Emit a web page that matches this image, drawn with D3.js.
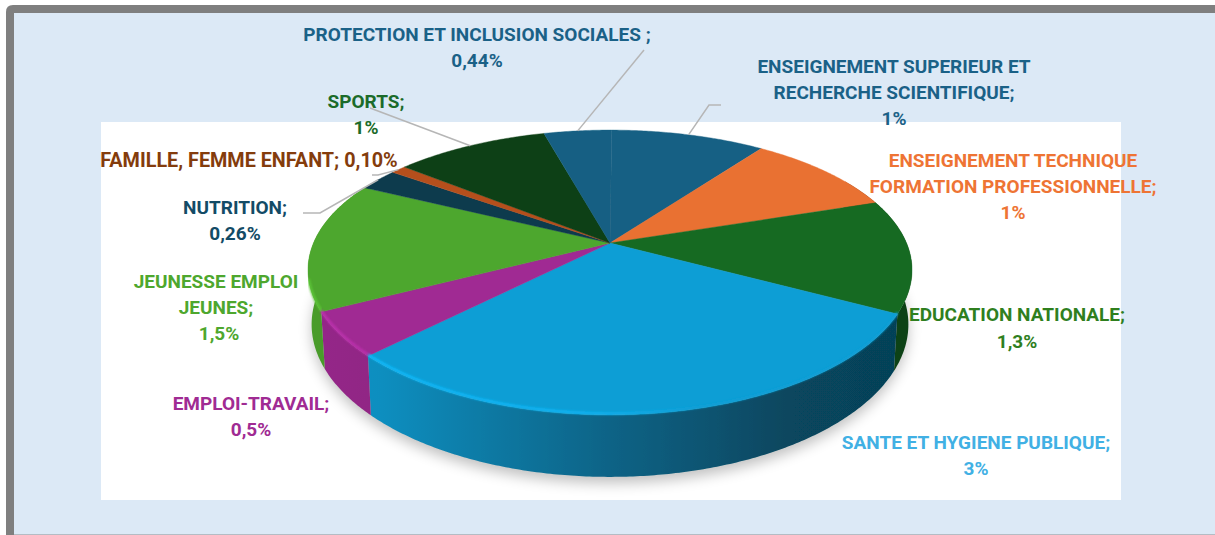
<!DOCTYPE html>
<html lang="fr">
<head>
<meta charset="utf-8">
<script src="https://cdn.jsdelivr.net/npm/d3@7"></script>
<style>
  html, body { margin: 0; padding: 0; background: #fff; }
  svg { display: block; }
  text { font-family: Roboto, "Liberation Sans", sans-serif; font-weight: 700; font-size: 19px; text-anchor: middle; }
</style>
</head>
<body>
<svg id="chart" width="1215" height="535"></svg>
<script>
// Budget shares by ministry, clockwise from twelve o'clock
const categories = [
  "ENSEIGNEMENT SUPERIEUR ET RECHERCHE SCIENTIFIQUE",
  "ENSEIGNEMENT TECHNIQUE FORMATION PROFESSIONNELLE",
  "EDUCATION NATIONALE",
  "SANTE ET HYGIENE PUBLIQUE",
  "EMPLOI-TRAVAIL",
  "JEUNESSE EMPLOI JEUNES",
  "NUTRITION",
  "FAMILLE, FEMME ENFANT",
  "SPORTS",
  "PROTECTION ET INCLUSION SOCIALES"
];
const values = [1, 1, 1.3, 3, 0.5, 1.5, 0.26, 0.10, 1, 0.44];
const valueLabels = ["1%", "1%", "1,3%", "3%", "0,5%", "1,5%", "0,26%", "0,10%", "1%", "0,44%"];
const sliceColors = ["#186184", "#E97132", "#196B24", "#0F9ED5", "#A02B93", "#4EA72E", "#0D3A4E", "#B5501C", "#0F4016", "#145F83"];
const textColors = ["#1A6187", "#EE7434", "#2F7F1E", "#41B0E4", "#A02B93", "#4EA72E", "#134B66", "#843C0C", "#1B6B2A", "#1A6187"];

// Label lines: [centre x, baseline y, text]
const labelLines = [
  [[894, 73, "ENSEIGNEMENT SUPERIEUR ET"], [894, 99, "RECHERCHE SCIENTIFIQUE;"], [894, 125, 0]],
  [[1013, 167, "ENSEIGNEMENT TECHNIQUE"], [1013, 193, "FORMATION PROFESSIONNELLE;"], [1013, 219, 0]],
  [[1017, 321, "EDUCATION NATIONALE;"], [1017, 348, 0]],
  [[976, 449, "SANTE ET HYGIENE PUBLIQUE;"], [976, 475, 0]],
  [[251, 410, "EMPLOI-TRAVAIL;"], [251, 436, 0]],
  [[216, 288, "JEUNESSE EMPLOI"], [216, 314, "JEUNES;"], [219, 340, 0]],
  [[235, 214, "NUTRITION;"], [235, 240, 0]],
  [[249, 167, "FAMILLE, FEMME ENFANT; 0,10%"]],
  [[366, 108, "SPORTS;"], [366, 134, 0]],
  [[477, 41, "PROTECTION ET INCLUSION SOCIALES ;"], [477, 67, 0]]
];
const wideLabel = 7;

// Leader lines run from the slice rim through these elbows
const leaders = [
  { slice: 0, via: [[709, 105], [721, 105]] },
  { slice: 6, via: [[320, 213], [303, 213]] },
  { slice: 7, via: [[378, 175], [372, 175]] },
  { slice: 8, via: [[370, 108]] },
  { slice: 9, via: [[644, 50]] }
];

const svg = d3.select("#chart");
const defs = svg.append("defs");

// Panel behind the chart
svg.append("path")
  .attr("d", "M6,535V12Q6,5 13,5H1215V535Z")
  .attr("fill", "#7f7f7f");
svg.append("rect").attr("x", 14).attr("y", 13).attr("width", 1201).attr("height", 521).attr("fill", "#dce9f6");
svg.append("rect").attr("x", 14).attr("y", 534).attr("width", 1201).attr("height", 1).attr("fill", "#b4bcc4");
svg.append("rect").attr("x", 101).attr("y", 122).attr("width", 1020).attr("height", 378).attr("fill", "#fff");

// Disc geometry: a perspective view of a unit circle, the near edge larger
const cx = 610, cy = 243, perspY = -0.207, perspX = -0.19, yScale = 86, xScale = 296.5, depth = 62;
function project(theta, drop = 0) {
  const u = Math.sin(theta), v = -Math.cos(theta);
  const sideFall = 1 - 0.3 * (1 - v) / 2;
  const narrow = 1 - 0.012 * (drop / depth);
  return [cx + narrow * xScale * u / (1 + perspX * v), (cy + yScale * v) / (1 + perspY * v) + drop * sideFall];
}
const arcPoints = (a0, a1, drop = 0) => {
  const n = Math.max(2, Math.ceil((a1 - a0) / 0.01));
  return d3.range(n + 1).map(i => project(a0 + (a1 - a0) * i / n, drop));
};
const line = d3.line();

const pie = d3.pie().sort(null).startAngle(0.007).endAngle(2 * Math.PI + 0.007);
const slices = pie(values).map((d, i) => ({ ...d, i, color: sliceColors[i] }));

// Soft filters
const soft = defs.append("filter").attr("id", "soft").attr("x", "-10%").attr("y", "-20%").attr("width", "120%").attr("height", "150%");
soft.append("feGaussianBlur").attr("stdDeviation", 7);
const glow = defs.append("filter").attr("id", "glow").attr("x", "-5%").attr("y", "-10%").attr("width", "110%").attr("height", "120%");
glow.append("feGaussianBlur").attr("stdDeviation", 0.9);
const edge = defs.append("filter").attr("id", "edge").attr("x", "-2%").attr("y", "-2%").attr("width", "104%").attr("height", "104%");
edge.append("feGaussianBlur").attr("stdDeviation", 0.5);

// Ground shadow under the disc
const tau = 2 * Math.PI;
svg.append("path")
  .attr("d", line(arcPoints(0, tau, depth + 6)) + "Z")
  .attr("fill", "#000").attr("opacity", 0.25).attr("filter", "url(#soft)");

// Walls, lit from the left and falling into shade on the right
const wallStops = [[0, 0.2], [0.12, 0.3], [0.3, 0.75], [0.5, 1.3], [0.8, 2.3], [1, 2.5]];
const walls = svg.append("g").attr("filter", "url(#edge)");
slices.forEach(s => {
  const a0 = Math.max(s.startAngle, 1.05), a1 = Math.min(s.endAngle, 5.2);
  if (a1 <= a0) return;
  const grad = defs.append("linearGradient").attr("id", `wall${s.i}`)
    .attr("gradientUnits", "userSpaceOnUse").attr("x1", 310).attr("x2", 912).attr("y1", 0).attr("y2", 0);
  wallStops.forEach(([o, k]) => grad.append("stop").attr("offset", o).attr("stop-color", d3.color(s.color).darker(s.i === 2 ? k * 0.55 : k)));
  const top = arcPoints(a0, a1), bottom = arcPoints(a0, a1, depth).reverse();
  walls.append("path").attr("d", line(top.concat(bottom)) + "Z").attr("fill", `url(#wall${s.i})`);
});

// Top faces
const faces = svg.append("g").attr("filter", "url(#edge)");
faces.selectAll("path").data(slices).join("path")
  .attr("d", s => line([[cx, cy], ...arcPoints(s.startAngle, s.endAngle)]) + "Z")
  .attr("fill", s => s.color)
  .attr("stroke", s => s.color).attr("stroke-width", 0.4);

// Bevel highlight along the front rim
slices.slice(3, 6).forEach(s => {
  const a0 = s.startAngle, a1 = Math.min(s.endAngle, 4.45);
  const tint = defs.append("linearGradient").attr("id", `rim${s.i}`)
    .attr("gradientUnits", "userSpaceOnUse").attr("x1", 310).attr("x2", 800).attr("y1", 0).attr("y2", 0);
  tint.append("stop").attr("offset", 0).attr("stop-color", d3.color(s.color).brighter(0.5));
  tint.append("stop").attr("offset", 0.55).attr("stop-color", d3.color(s.color).brighter(0.4));
  tint.append("stop").attr("offset", 0.8).attr("stop-color", s.color);
  svg.append("path")
    .attr("d", line(arcPoints(a0, a1, -1.5)))
    .attr("fill", "none").attr("stroke", `url(#rim${s.i})`).attr("stroke-width", 2.4)
    .attr("filter", "url(#glow)");
});

// Leader lines
svg.append("g").selectAll("path").data(leaders).join("path")
  .attr("d", d => {
    const s = slices[d.slice];
    return line([project((s.startAngle + s.endAngle) / 2), ...d.via]);
  })
  .attr("fill", "none").attr("stroke", "#b6b6b6").attr("stroke-width", 1.5);

// Category and value labels
labelLines.forEach((lines, i) => {
  svg.append("g").attr("fill", textColors[i]).selectAll("text").data(lines).join("text")
    .attr("x", d => d[0]).attr("y", d => d[1])
    .style("font-size", i === wideLabel ? "19.8px" : null)
    .text(d => d[2] === 0 ? valueLabels[i] : d[2]);
});
</script>
</body>
</html>
